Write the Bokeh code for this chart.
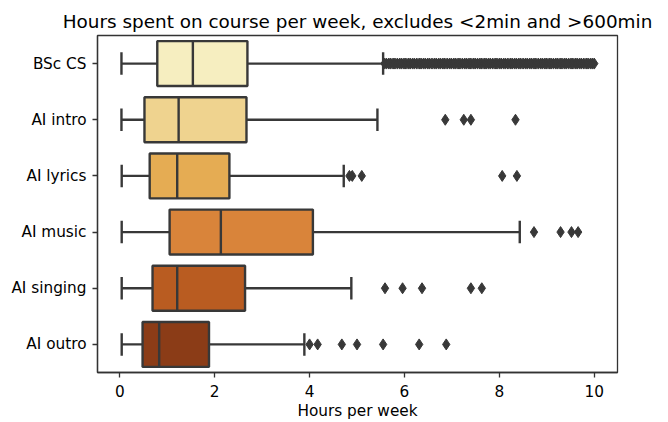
from bokeh.plotting import figure
from bokeh.models import Range1d, FixedTicker, ColumnDataSource, Title
from bokeh.embed import file_html
from bokeh.resources import INLINE

# ---- data ----
categories = ["BSc CS", "AI intro", "AI lyrics", "AI music", "AI singing", "AI outro"]
whisker_low = [0.035, 0.035, 0.04, 0.04, 0.04, 0.04]
q1_values = [0.79, 0.52, 0.63, 1.05, 0.69, 0.48]
median_values = [1.54, 1.24, 1.21, 2.13, 1.21, 0.83]
q3_values = [2.69, 2.67, 2.31, 4.07, 2.64, 1.88]
whisker_high = [5.55, 5.43, 4.72, 8.43, 4.88, 3.89]
box_colors = ["#f6eec0", "#efd38f", "#e5ac53", "#d9843a", "#b95c21", "#8b3c17"]

outliers_bsc_cs = [5.58, 5.62, 5.67, 5.71, 5.76, 5.80, 5.85, 5.90, 5.94, 5.99, 6.03, 6.08,
                   6.12, 6.17, 6.21, 6.26, 6.31, 6.35, 6.40, 6.44, 6.49, 6.53, 6.58, 6.63,
                   6.67, 6.72, 6.76, 6.81, 6.85, 6.90, 6.95, 6.99, 7.04, 7.08, 7.13, 7.17,
                   7.22, 7.27, 7.31, 7.36, 7.40, 7.45, 7.49, 7.54, 7.59, 7.63, 7.68, 7.72,
                   7.77, 7.81, 7.86, 7.91, 7.95, 8.00, 8.04, 8.09, 8.13, 8.18, 8.23, 8.27,
                   8.32, 8.36, 8.41, 8.45, 8.50, 8.55, 8.59, 8.64, 8.68, 8.73, 8.77, 8.82,
                   8.87, 8.91, 8.96, 9.00, 9.05, 9.09, 9.14, 9.19, 9.23, 9.28, 9.32, 9.37,
                   9.41, 9.46, 9.51, 9.55, 9.60, 9.64, 9.69, 9.73, 9.78, 9.83, 9.87, 9.92,
                   9.96, 10.0]
outliers_ai_intro = [6.86, 7.25, 7.40, 8.34]
outliers_ai_lyrics = [4.84, 4.90, 5.10, 8.06, 8.37]
outliers_ai_music = [8.73, 9.29, 9.52, 9.66]
outliers_ai_singing = [5.59, 5.96, 6.37, 7.40, 7.63]
outliers_ai_outro = [4.00, 4.17, 4.68, 5.00, 5.55, 6.31, 6.88]
outliers = [outliers_bsc_cs, outliers_ai_intro, outliers_ai_lyrics,
            outliers_ai_music, outliers_ai_singing, outliers_ai_outro]

x_ticks = [0, 2, 4, 6, 8, 10]
title_text = "Hours spent on course per week, excludes <2min and >600min"
x_label = "Hours per week"

# ---- styling ----
LINE = "#383838"
FONT = "DejaVu Sans"
BOX_W = 0.8
CAP_W = 0.4

idx = list(range(len(categories)))

p = figure(width=660, height=422, output_backend="svg", toolbar_location=None,
           x_range=Range1d(-0.47, 10.49), y_range=Range1d(len(categories) - 0.5, -0.5),
           min_border_left=97, min_border_right=43, min_border_top=35, min_border_bottom=49)
p.title = None
p.add_layout(Title(text=title_text, align="center", text_font=FONT,
                   text_font_size="18.4px", text_font_style="normal",
                   text_color="#000000", standoff=7), "above")

src = ColumnDataSource(dict(
    y=idx, lo=whisker_low, q1=q1_values, med=median_values, q3=q3_values, hi=whisker_high,
    color=box_colors,
    yb=[i - BOX_W / 2 for i in idx], yt=[i + BOX_W / 2 for i in idx],
    cb=[i - CAP_W / 2 for i in idx], ct=[i + CAP_W / 2 for i in idx],
))

# whiskers
p.segment(x0="lo", y0="y", x1="q1", y1="y", source=src, line_color=LINE, line_width=2.4)
p.segment(x0="q3", y0="y", x1="hi", y1="y", source=src, line_color=LINE, line_width=2.4)
# caps
p.segment(x0="lo", y0="cb", x1="lo", y1="ct", source=src, line_color=LINE, line_width=2.4)
p.segment(x0="hi", y0="cb", x1="hi", y1="ct", source=src, line_color=LINE, line_width=2.4)
# boxes
p.hbar(y="y", height=BOX_W, left="q1", right="q3", source=src,
       fill_color="color", line_color=LINE, line_width=2.4)
# medians
p.segment(x0="med", y0="yb", x1="med", y1="yt", source=src, line_color=LINE, line_width=2.4)

# outliers
ox, oy = [], []
for i, vals in enumerate(outliers):
    ox.extend(vals)
    oy.extend([i] * len(vals))
p.scatter(x=ox, y=oy, marker="diamond", size=11, fill_color=LINE, line_color=LINE,
          line_width=1)

# axes
p.xgrid.visible = False
p.ygrid.visible = False
p.background_fill_color = "white"
p.border_fill_color = "white"
p.outline_line_color = "#333333"
p.outline_line_width = 1.3
p.outline_line_alpha = 1.0

p.xaxis.ticker = FixedTicker(ticks=x_ticks)
p.yaxis.ticker = FixedTicker(ticks=idx)
p.yaxis.major_label_overrides = {i: c for i, c in enumerate(categories)}
p.xaxis.axis_label = x_label

for ax in (p.xaxis, p.yaxis):
    ax.axis_line_color = "#333333"
    ax.axis_line_width = 1.3
    ax.major_tick_line_color = "#333333"
    ax.major_tick_line_width = 1.3
    ax.major_tick_out = 5
    ax.major_tick_in = 0
    ax.minor_tick_line_color = None
    ax.major_label_text_font = FONT
    ax.major_label_text_font_size = "15.3px"
    ax.major_label_text_color = "#000000"
    ax.axis_label_text_font = FONT
    ax.axis_label_text_font_size = "15.3px"
    ax.axis_label_text_font_style = "normal"
    ax.axis_label_text_color = "#000000"
p.xaxis.major_label_standoff = 7
p.xaxis.axis_label_standoff = 2
p.yaxis.major_label_standoff = 6

open("out.html", "w").write(file_html(p, INLINE))
